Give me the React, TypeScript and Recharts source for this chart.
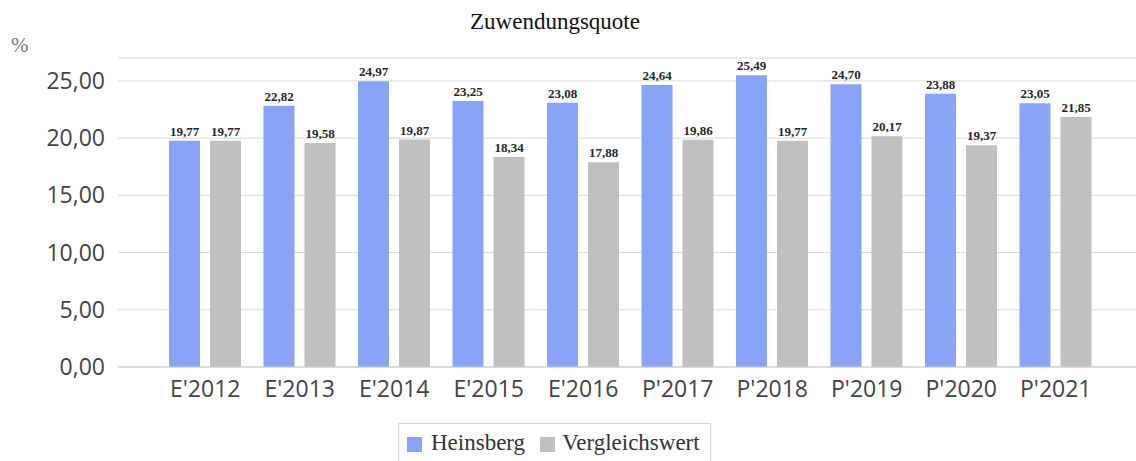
import React from "react";
import { BarChart, Bar, XAxis, YAxis, CartesianGrid, LabelList } from "recharts";

const categories = ["E'2012", "E'2013", "E'2014", "E'2015", "E'2016", "P'2017", "P'2018", "P'2019", "P'2020", "P'2021"];
const heinsberg = [19.77, 22.82, 24.97, 23.25, 23.08, 24.64, 25.49, 24.7, 23.88, 23.05];
const vergleichswert = [19.77, 19.58, 19.87, 18.34, 17.88, 19.86, 19.77, 20.17, 19.37, 21.85];
const yTicks = [0, 5, 10, 15, 20, 25];

const BLUE = "#88a3f8";
const GREY = "#c0c0c0";

const data = categories.map((cat, i) => ({
  cat,
  heinsberg: heinsberg[i],
  vergleich: vergleichswert[i],
}));

const fmt = (v: number) => v.toFixed(2).replace(".", ",");

const serif = "'Liberation Serif', 'Times New Roman', serif";
const sans = "'Open Sans', sans-serif";

const labelStyle = { fontFamily: serif, fontSize: 13, fontWeight: "bold", fill: "#262626" };

export default function App() {
  return (
    <div style={{ position: "absolute", left: 0, top: 0, width: 1136, height: 461, background: "#fff" }}>
      <div
        style={{
          position: "absolute",
          top: 9,
          left: 0,
          width: 1110,
          textAlign: "center",
          fontFamily: serif,
          fontSize: 23,
          color: "#111",
        }}
      >
        Zuwendungsquote
      </div>
      <div
        style={{
          position: "absolute",
          top: 33,
          left: 11,
          fontFamily: serif,
          fontSize: 21,
          color: "#777",
        }}
      >
        %
      </div>
      <BarChart
        width={1136}
        height={461}
        data={data}
        margin={{ top: 58, right: 0, bottom: 54, left: 0 }}
        barSize={31}
        barGap={10}
      >
        <CartesianGrid vertical={false} stroke="#d9d9d9" />
        <XAxis
          dataKey="cat"
          height={40}
          axisLine={{ stroke: "#cccccc" }}
          tickLine={false}
          tickSize={0}
          tickMargin={14}
          padding={{ left: 40, right: 33 }}
          tick={{ fontFamily: sans, fontSize: 23, fill: "#444" }}
        />
        <YAxis
          width={118}
          domain={[0, 27]}
          ticks={yTicks}
          axisLine={false}
          tickLine={false}
          tickSize={0}
          tickMargin={13}
          tickFormatter={fmt}
          tick={{ fontFamily: sans, fontSize: 23, fill: "#444" }}
        />
        <Bar dataKey="heinsberg" fill={BLUE} isAnimationActive={false}>
          <LabelList dataKey="heinsberg" position="top" offset={5} formatter={(v: number) => fmt(v)} style={labelStyle} />
        </Bar>
        <Bar dataKey="vergleich" fill={GREY} isAnimationActive={false}>
          <LabelList dataKey="vergleich" position="top" offset={5} formatter={(v: number) => fmt(v)} style={labelStyle} />
        </Bar>
      </BarChart>
      <div
        style={{
          position: "absolute",
          left: 398,
          top: 423,
          width: 313,
          height: 44,
          border: "1px solid #d6d6d6",
          boxSizing: "border-box",
          display: "flex",
          alignItems: "flex-start",
          paddingTop: 6,
          paddingLeft: 8,
          fontFamily: serif,
          fontSize: 23,
          color: "#333",
          whiteSpace: "nowrap",
        }}
      >
        <span style={{ display: "inline-block", width: 15, height: 15, background: BLUE, marginTop: 7, marginRight: 9 }} />
        <span>Heinsberg</span>
        <span style={{ display: "inline-block", width: 15, height: 15, background: GREY, marginTop: 7, marginLeft: 15, marginRight: 7 }} />
        <span>Vergleichswert</span>
      </div>
    </div>
  );
}
